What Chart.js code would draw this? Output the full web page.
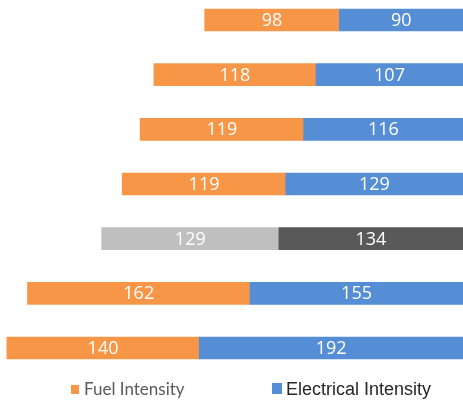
<!DOCTYPE html>
<html>
<head>
<meta charset="utf-8">
<script src="https://cdn.jsdelivr.net/npm/chart.js@4/dist/chart.umd.min.js"></script>
<style>
  html, body { margin: 0; padding: 0; background: #ffffff; }
  #wrap { position: relative; width: 463px; height: 401px; }
</style>
</head>
<body>
<div id="wrap"><canvas id="c" width="463" height="401"></canvas></div>
<script>
// ---- Data ----
const categories = ['Row 1', 'Row 2', 'Row 3', 'Row 4', 'Row 5', 'Row 6', 'Row 7'];
const fuelIntensity = [98, 118, 119, 119, 129, 162, 140];
const electricalIntensity = [90, 107, 116, 129, 134, 155, 192];
const seriesNames = ['Fuel Intensity', 'Electrical Intensity'];
const highlightedCategory = 'Row 5';

// ---- Styles ----
const FUEL = '#F79646', ELEC = '#558ED5';
const FUEL_HI = '#BFBFBF', ELEC_HI = '#595959';
const fuelColors = categories.map(c => c === highlightedCategory ? FUEL_HI : FUEL);
const elecColors = categories.map(c => c === highlightedCategory ? ELEC_HI : ELEC);

const valueLabels = {
  id: 'valueLabels',
  afterDatasetsDraw(chart) {
    const ctx = chart.ctx;
    ctx.save();
    ctx.fillStyle = '#ffffff';
    ctx.font = '18px "Open Sans"';
    ctx.textAlign = 'center';
    ctx.textBaseline = 'middle';
    chart.data.datasets.forEach((ds, di) => {
      const meta = chart.getDatasetMeta(di);
      meta.data.forEach((el, i) => {
        const p = el.getProps(['x', 'y', 'base'], true);
        ctx.fillText(String(ds.data[i]), (p.x + p.base) / 2, p.y + 1);
      });
    });
    ctx.restore();
  }
};

const customLegend = {
  id: 'customLegend',
  afterDraw(chart) {
    const ctx = chart.ctx;
    ctx.save();
    ctx.textBaseline = 'alphabetic';
    ctx.textAlign = 'left';
    // Fuel
    ctx.fillStyle = FUEL;
    ctx.fillRect(71, 385, 8, 9);
    ctx.fillStyle = '#595959';
    ctx.font = '17px Lato';
    ctx.fillText(seriesNames[0], 84, 395);
    // Electrical
    ctx.fillStyle = ELEC;
    ctx.fillRect(272, 383, 10, 11);
    ctx.fillStyle = '#262626';
    ctx.font = '18px "Liberation Sans"';
    ctx.fillText(seriesNames[1], 286, 395);
    ctx.restore();
  }
};

new Chart(document.getElementById('c'), {
  type: 'bar',
  data: {
    labels: categories,
    datasets: [
      { label: seriesNames[1], data: electricalIntensity, backgroundColor: elecColors, borderWidth: 0, barThickness: 22, clip: false },
      { label: seriesNames[0], data: fuelIntensity, backgroundColor: fuelColors, borderWidth: 0, barThickness: 22, clip: false }
    ]
  },
  options: {
    indexAxis: 'y',
    responsive: false,
    animation: false,
    devicePixelRatio: 1,
    layout: { padding: { top: 20, bottom: 53, left: 0, right: 0 } },
    scales: {
      x: { type: 'linear', stacked: true, reverse: true, min: 0, max: 337, display: false },
      y: { type: 'category', stacked: true, offset: false, display: false }
    },
    plugins: {
      legend: { display: false },
      tooltip: { enabled: false }
    }
  },
  plugins: [valueLabels, customLegend]
});
</script>
</body>
</html>
